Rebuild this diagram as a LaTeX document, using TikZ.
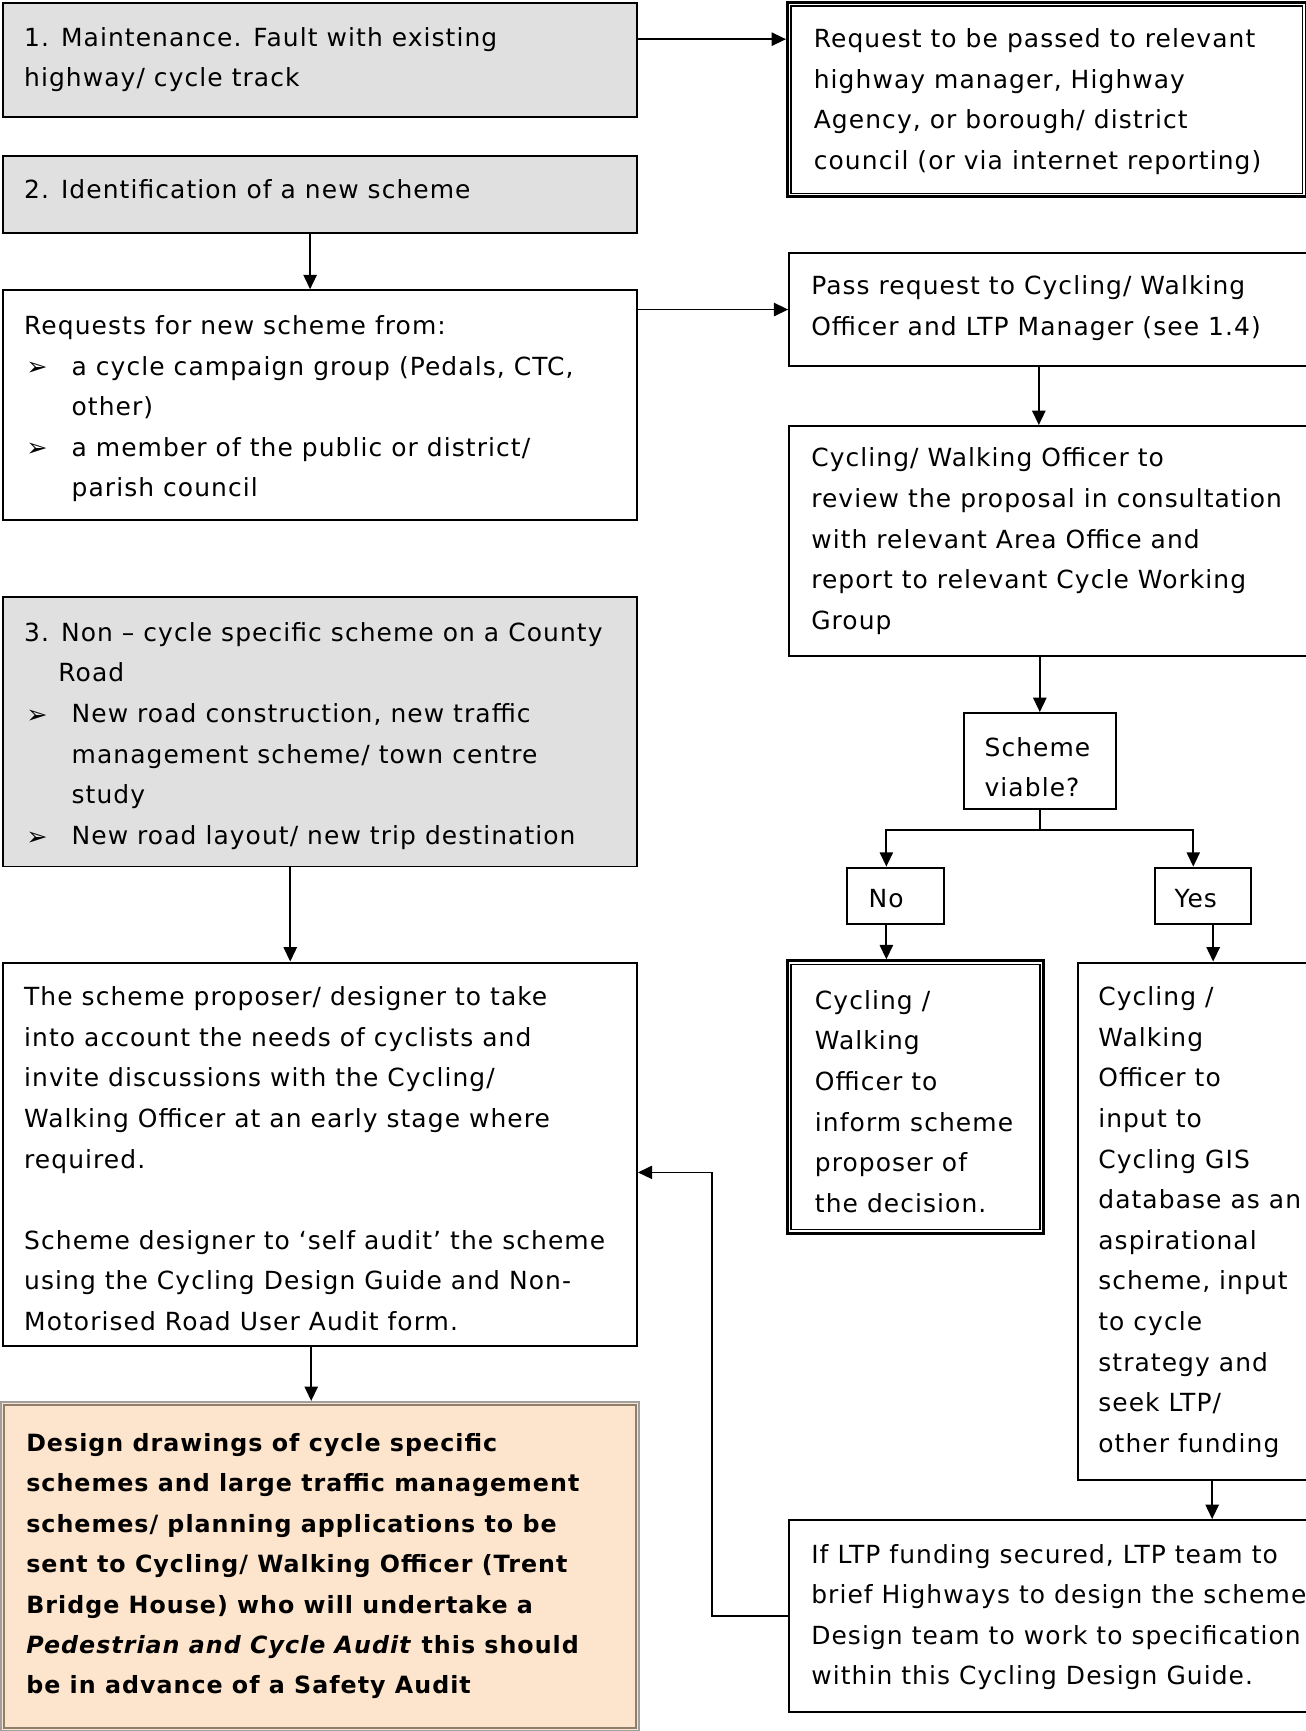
\documentclass[tikz,border=0pt]{standalone}
\usepackage{fontspec}
\setmainfont{DejaVu Sans}[LetterSpace=4.3]
\usetikzlibrary{calc,arrows.meta}
\newdimen\px \px=0.5pt
\definecolor{boxgrey}{HTML}{E0E0E0}
\definecolor{peach}{HTML}{FDE4CC}
\definecolor{outgrey}{HTML}{A0A0A0}
\definecolor{ingrey}{HTML}{8E7E6E}
% width, height, left pad, first-baseline offset, text  (all in px)
\newcommand\bt[5]{\parbox[c][#2\px][t]{#1\px}{\raggedright\leftskip=#3\px\relax\parindent=0pt\relax
  \vspace*{\dimexpr#4\px-0.7\baselineskip\relax}\strut#5}}
\newcommand\bul{\hspace*{2\px}\makebox[41\px][l]{\raisebox{-0.3pt}{\fontsize{11.5pt}{11.5pt}\selectfont ➢}}}
\newcommand\ind[1]{\hspace*{#1\px}}
\tikzset{
  box/.style={draw, line width=0.9pt, inner sep=0pt, anchor=north west, fill=white,
    font=\fontsize{11.3pt}{18.4pt}\selectfont},
  greybox/.style={box, fill=boxgrey},
  dbox/.style={box, line width=1.2pt},
  inner/.style={line width=0.6pt},
  arr/.style={line width=0.8pt, -{Triangle[length=6.5pt,width=6pt]}},
  ln/.style={line width=0.8pt},
}
\begin{document}
\begin{tikzpicture}[x=0.5pt,y=-0.5pt]
\useasboundingbox (0,0) rectangle (1183,1568);
\begin{scope}
\clip (0,0) rectangle (1183,1568);
% left column
\node[greybox] (b1) at (2,2) {\bt{574}{103}{19}{39}{1. Maintenance. Fault with existing\\highway/ cycle track}};
\node[greybox] (b2) at (2,140) {\bt{574}{70}{19}{39}{2. Identification of a new scheme}};
\node[box] (req) at (2,262) {\bt{574}{208}{19}{40}{Requests for new scheme from:\\
  \bul a cycle campaign group (Pedals, CTC,\\ \ind{43}other)\\
  \bul a member of the public or district/\\ \ind{43}parish council}};
\node[greybox] (b3) at (2,540) {\bt{574}{244}{19}{40}{3. Non – cycle specific scheme on a County\\ \ind{31}Road\\
  \bul New road construction, new traffic\\ \ind{43}management scheme/ town centre\\ \ind{43}study\\
  \bul New road layout/ new trip destination}};
\node[box] (sch) at (2,871) {\bt{574}{347}{19}{39}{The scheme proposer/ designer to take\\into account the needs of cyclists and\\invite discussions with the Cycling/\\Walking Officer at an early stage where\\required.\\[18.4pt]
  Scheme designer to ‘self audit’ the scheme\\using the Cycling Design Guide and Non-\\Motorised Road User Audit form.}};
\node[box, draw=outgrey, line width=0.8pt, fill=peach, font=\fontsize{10.75pt}{18.3pt}\selectfont\bfseries] (des) at (0,1269) {\bt{578}{298}{23}{45}{Design drawings of cycle specific\\schemes and large traffic management\\schemes/ planning applications to be\\sent to Cycling/ Walking Officer (Trent\\Bridge House) who will undertake a\\\textit{Pedestrian and Cycle Audit} this should\\be in advance of a Safety Audit}};
\draw[ingrey, line width=1pt] ($(des.north west)+(3.5,3.5)$) rectangle ($(des.south east)+(-3.5,-3.5)$);
% right column
\node[dbox] (r1) at (712,1) {\bt{470}{176}{24}{41}{Request to be passed to relevant\\highway manager, Highway\\Agency, or borough/ district\\council (or via internet reporting)}};
\draw[inner] ($(r1.north west)+(4.4,4.4)$) rectangle ($(r1.south east)+(-4.4,-4.4)$);
\node[box] (r2) at (714,228) {\bt{560}{103}{20}{38}{Pass request to Cycling/ Walking\\Officer and LTP Manager (see 1.4)}};
\node[box] (r3) at (714,385) {\bt{560}{208}{20}{37}{Cycling/ Walking Officer to\\review the proposal in consultation\\with relevant Area Office and\\report to relevant Cycle Working\\Group}};
\node[box] (via) at (872,645) {\bt{138}{87}{19}{39}{Scheme\\viable?}};
\node[box] (no) at (766,785) {\bt{88}{51}{20}{36}{No}};
\node[box] (yes) at (1045,785) {\bt{87}{51}{18}{36}{Yes}};
\node[dbox] (nor) at (712,869) {\bt{232}{247}{25}{44}{Cycling /\\Walking\\Officer to\\inform scheme\\proposer of\\the decision.}};
\draw[inner] ($(nor.north west)+(4.4,4.4)$) rectangle ($(nor.south east)+(-4.4,-4.4)$);
\node[box] (yesr) at (976,871) {\bt{300}{469}{18}{39}{Cycling /\\Walking\\Officer to\\input to\\Cycling GIS\\database as an\\aspirational\\scheme, input\\to cycle\\strategy and\\seek LTP/\\other funding}};
\node[box] (ltp) at (714,1376) {\bt{560}{174}{20}{39}{If LTP funding secured, LTP team to\\brief Highways to design the scheme.\\Design team to work to specification\\within this Cycling Design Guide.}};
% connectors
\coordinate (a1) at ($(b1.north east)+(0,33.5)$);
\draw[arr] (a1) -- (a1 -| r1.west);
\coordinate (a2) at ($(b2.south)+(-9,0)$);
\draw[arr] (a2) -- (a2 |- req.north);
\draw[arr] (req.east |- r2.west) -- (r2.west);
\coordinate (a4) at ($(r2.south west)+(227,0)$);
\draw[arr] (a4) -- (a4 |- r3.north);
\draw[arr] (via.north |- r3.south) -- (via.north);
\draw[ln] (via.south) -- ++(0,18) coordinate (br);
\coordinate (nt) at ($(no.north)+(-8,0)$);
\coordinate (yt) at ($(yes.north)+(-8.5,0)$);
\draw[arr] (br) -| (nt);
\draw[arr] (br) -| (yt);
\coordinate (a7) at ($(no.south)+(-8,0)$);
\draw[arr] (a7) -- (a7 |- nor.north);
\coordinate (a8) at ($(yes.south)+(9.5,0)$);
\draw[arr] (a8) -- (a8 |- yesr.north);
\coordinate (a9) at ($(yesr.south west)+(122,0)$);
\draw[arr] (a9) -- (a9 |- ltp.north);
\coordinate (fb) at ($(sch.north east)+(0,191)$);
\draw[arr] (ltp.west) -- ++(-69,0) |- (fb);
\coordinate (a11) at ($(b3.south)+(-27,0)$);
\draw[arr] (a11) -- (a11 |- sch.north);
\coordinate (a12) at ($(sch.south)+(-8,0)$);
\draw[arr] (a12) -- (a12 |- des.north);
\end{scope}
\end{tikzpicture}
\end{document}
